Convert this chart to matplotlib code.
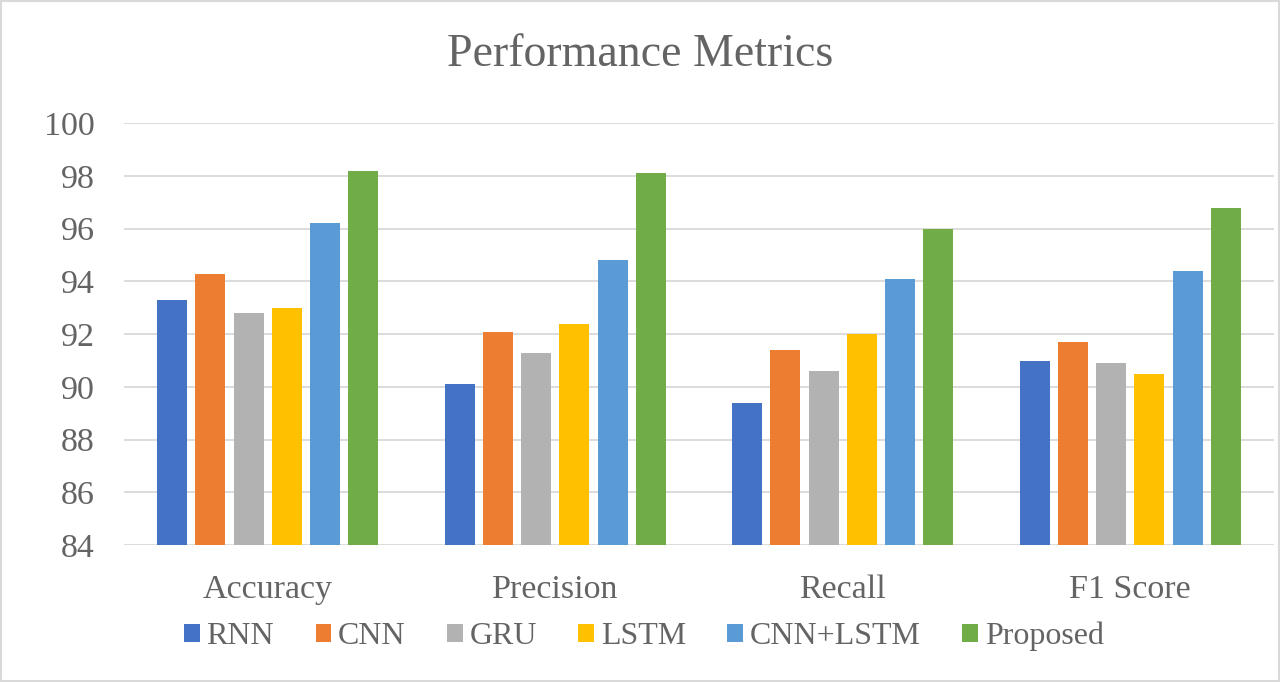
import numpy as np
import matplotlib.pyplot as plt
from matplotlib.patches import Rectangle

categories = ["Accuracy", "Precision", "Recall", "F1 Score"]
models = ["RNN", "CNN", "GRU", "LSTM", "CNN+LSTM", "Proposed"]
rnn = [93.3, 90.1, 89.4, 91.0]
cnn = [94.3, 92.1, 91.4, 91.7]
gru = [92.8, 91.3, 90.6, 90.9]
lstm = [93.0, 92.4, 92.0, 90.5]
cnn_lstm = [96.2, 94.8, 94.1, 94.4]
proposed = [98.2, 98.1, 96.0, 96.8]
y_ticks = [84, 86, 88, 90, 92, 94, 96, 98, 100]

series = [rnn, cnn, gru, lstm, cnn_lstm, proposed]
colors = ["#4472C4", "#ED7D31", "#B2B2B2", "#FFC000", "#5B9BD5", "#70AD47"]
text_color = "#646464"

plt.rcParams['font.family'] = ['Liberation Serif', 'DejaVu Serif']

fig = plt.figure(figsize=(12.8, 6.82), dpi=100)
ax = fig.add_axes([0.0969, 0.2009, 0.8984, 0.6183])

x = np.arange(len(categories))
width = 0.104
pitch = 0.133
for i, (vals, name) in enumerate(zip(series, models)):
    offset = (i - 2.5) * pitch
    ax.bar(x + offset, np.array(vals) - 84, width, bottom=84,
           color=colors[i], label=name, zorder=3)

ax.set_xlim(-0.5, len(categories) - 0.5)
ax.set_ylim(84, 100)
ax.set_yticks(y_ticks)
ax.set_xticks(x)
ax.set_xticklabels(categories)
ax.tick_params(axis='y', length=0, pad=21, labelsize=24.5, labelcolor=text_color)
ax.tick_params(axis='x', length=0, pad=21, labelsize=24.5, labelcolor=text_color)
ax.grid(axis='y', color="#D9D9D9", linewidth=1.3, zorder=0)
for s in ax.spines.values():
    s.set_visible(False)

fig.text(0.5, 0.92, "Performance Metrics", ha='center', va='center',
         fontsize=33, color=text_color)

leg = fig.legend(loc='center', bbox_to_anchor=(0.503, 0.067), ncol=6,
                 frameon=False, fontsize=23, handlelength=0.5,
                 handleheight=0.5, handletextpad=0.2, columnspacing=1.3)
for t in leg.get_texts():
    t.set_color(text_color)

fig.add_artist(Rectangle((0.001, 0.001), 0.998, 0.997, transform=fig.transFigure,
                         fill=False, edgecolor="#D9D9D9", linewidth=1.5))

fig.savefig("out.png", dpi=100, facecolor="white")
